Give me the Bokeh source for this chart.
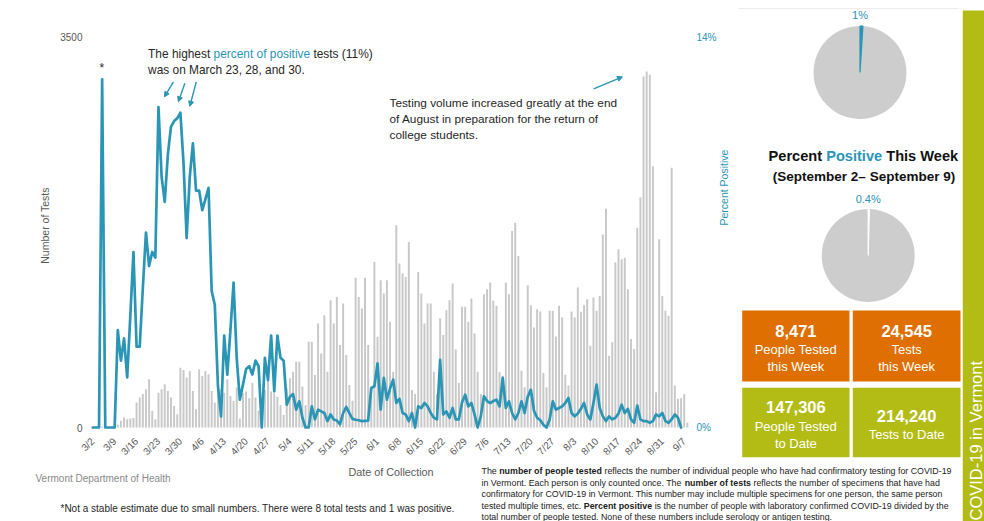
import math
import numpy as np
import pandas as pd
from bokeh.plotting import figure
from bokeh.layouts import row, column
from bokeh.models import Range1d, LinearAxis, FixedTicker, PrintfTickFormatter, Arrow, NormalHead
from bokeh.core.properties import value
from bokeh.embed import file_html
from bokeh.resources import INLINE

# ---------------- data ----------------
START = "2020-03-02"
tests = [
    0, 0, 0, 8, 0, 0, 0,
    0, 27, 60, 90, 75, 80, 85,
    224, 270, 300, 343, 433, 150, 75,
    313, 343, 388, 328, 270, 194, 119,
    537, 516, 448, 508, 328, 164, 522,
    462, 508, 477, 328, 224, 433, 343,
    313, 433, 283, 239, 358, 80, 310,
    322, 263, 400, 270, 150, 100, 337,
    441, 322, 307, 277, 203, 113, 352,
    441, 501, 591, 591, 367, 200, 770,
    770, 471, 934, 665, 1008, 500, 1143,
    934, 1172, 740, 1113, 650, 382, 239,
    1343, 1172, 1068, 1343, 740, 350, 1486,
    814, 1322, 1202, 1322, 949, 500, 1814,
    1471, 1381, 1351, 1665, 337, 300, 1396,
    1202, 934, 1113, 1113, 500, 300, 979,
    829, 1053, 1143, 1292, 700, 400, 1083,
    1083, 949, 1158, 844, 500, 300, 1196,
    1241, 1301, 1137, 1092, 495, 465, 1301,
    1196, 1763, 1838, 1539, 510, 361, 1277,
    1098, 898, 1062, 1041, 489, 361, 1047,
    1047, 817, 1092, 987, 474, 376, 1041,
    987, 1256, 1038, 1098, 1152, 734, 1166,
    1047, 1181, 1733, 1963, 644, 764, 1480,
    1599, 1510, 1524, 1241, 794, 704, 1793,
    2065, 3150, 3195, 3166, 2345, 316, 1689,
    1181, 1047, 1002, 2330, 376, 257, 263,
    301, 42,
]
NaN = float("nan")
pct_positive = [
    0, 0, 0, 12.5, 0, 0, 0,
    0, 3.5, 2.4, 3.2, 1.8, 4.0, 6.3,
    2.9, 2.9, 5.0, 7.0, 5.8, 6.3, 6.1,
    11.5, 9.0, 8.1, 9.8, 10.8, 11.0, 11.1,
    11.3, 9.5, 6.8, 9.0, 10.2, 8.5, 8.5,
    7.8, 8.2, 8.6, 4.9, 4.4, 1.5, 0.4,
    3.3, 1.9, 3.5, 5.2, 2.5, 1.0, 1.54,
    2.1, 2.2, 1.9, 2.4, 2.2, 0, 2.5,
    1.7, 3.3, 1.3, 3.3, 2.5, 2.4, 0.82,
    1.1, 1.2, 0.64, 0.94, 0.35, 0, 0,
    0.76, 0.29, 0.64, 0.58, 0.52, 0.23, 0.47,
    0.29, 0.25, 0.11, 0.52, 0.74, 0.52, 0.31,
    0.28, 0.26, 0.23, 0.24, 0.25, 1.42, 1.48,
    2.3, 0.64, 1.78, 1.0, 1.4, 1.72, 0.88,
    1.03, 0.52, 0.47, 0.23, 0.52, 0, 0.76,
    0.70, 0.88, 0.76, 0.52, 0.35, 0.29, 2.43,
    0.47, 0.58, 0.35, 0.70, 0.29, 0.29, 0.9,
    1.18, 0.76, 0.88, 0.47, 0, 0.40, 1.12,
    0.95, 0.88, 0.95, 1.0, 0.76, 1.78, 0.70,
    0.94, 0.52, 0.29, 0.52, 0.94, 0.52, 1.1,
    1.36, 0.6, 0.35, 0.26, 0.1, 0, 0.29,
    0.94, 0.64, 0.7, 0.76, 0.88, 1.06, 0.52,
    0.4, 0.5, 0.67, 0.88, 0.47, 0.29, 0.88,
    1.54, 0.70, 0.40, 0.23, 0.40, 0.29, 0.35,
    0.5, 0.82, 0.52, 0.67, 0.29, 0.17, 0.79,
    0.29, 0.23, 0.23, 0.17, 0.23, 0.47, 0.40,
    0.52, 0.23, 0.17, 0.3, 0.47, 0.35, 0,
    NaN, NaN,
]
tick_labels = ["3/2", "3/9", "3/16", "3/23", "3/30", "4/6", "4/13", "4/20", "4/27",
               "5/4", "5/11", "5/18", "5/25", "6/1", "6/8", "6/15", "6/22", "6/29",
               "7/6", "7/13", "7/20", "7/27", "8/3", "8/10", "8/17", "8/24", "8/31", "9/7"]
y_ticks = [0, 3500]
pct_ticks = [0, 14]
pie_labels = ["1%", "0.4%"]
pie_values = [1.0, 0.4]
box_numbers = ["8,471", "24,545", "147,306", "214,240"]
box_captions = [["People Tested", "this Week"], ["Tests", "this Week"],
                ["People Tested", "to Date"], ["Tests to Date"]]

n = min(len(tests), len(pct_positive))
tests = tests[:n]
pct_positive = pct_positive[:n]

# ---------------- styles ----------------
BLUE = "#2a95b5"
GRAY_BAR = "#c8c8c8"
PIE_GRAY = "#cdcdcd"
ORANGE = "#df6f00"
GREEN = "#b3bc14"
TXT = "#262626"
AXT = "#595959"
FONT = "Liberation Sans"

REG = {}
for chars, w in [("ijl", 222), (" ,.:;!/Itf", 278), ("r()-", 333), ("*", 389), ("'", 191),
                 ("cksvxyzJ", 500), ("abdeghnopqu0123456789?L\u2013", 556), ("+=<>", 584),
                 ("FTZ", 611), ("ABEKPSVXY", 667), ("CDHNRUw", 722), ("GOQ", 778),
                 ("mM", 833), ("%", 889), ("W", 944)]:
    for c in chars:
        REG[c] = w
BOLD = {}
for chars, w in [(" ,.;!Iijl", 278), ("ft()-:", 333), ("r*", 389), ("z", 500),
                 ("acesvxyJk0123456789\u2013", 556), ("bdghnopquLFTZ", 611), ("EPSVXY", 667),
                 ("ABCDHKNRU", 722), ("GOQw", 778), ("M", 833), ("m%", 889), ("W", 944)]:
    for c in chars:
        BOLD[c] = w


def text_w(s, size, bold=False):
    t = BOLD if bold else REG
    return sum(t.get(c, 556) for c in s) * size / 1000.0


def lead_w(s, size, bold=False):
    k = len(s) - len(s.lstrip(" "))
    return text_w(" " * k, size, bold)


# ---------------- main chart (page pixels: x 0..738, y 0..464) ----------------
X0_PX, PX_DAY = 92.3, 3.15          # pixel of first day, pixels per day
BASE_PX, TOP_PX = 428.0, 37.0       # pixel rows of 0 and of the top tick
FR_L, FR_R, FR_T, FR_B = 86, 697, 20, 431
P_W, P_H = 738, 464
UNIT = y_ticks[-1] / (BASE_PX - TOP_PX)
PUNIT = pct_ticks[-1] / (BASE_PX - TOP_PX)

start_ts = pd.Timestamp(START)
dates = pd.date_range(START, periods=n, freq="D")
days = np.array([(d - start_ts).days for d in dates])
tick_days = [(pd.Timestamp("2020/" + lab) - start_ts).days for lab in tick_labels]

p = figure(width=P_W, height=P_H,
           x_range=Range1d((FR_L - X0_PX) / PX_DAY, (FR_R - X0_PX) / PX_DAY),
           y_range=Range1d(-(FR_B - BASE_PX) * UNIT, y_ticks[-1] + (TOP_PX - FR_T) * UNIT),
           output_backend="svg", toolbar_location=None,
           min_border_left=FR_L, min_border_right=P_W - FR_R,
           min_border_top=FR_T, min_border_bottom=P_H - FR_B)
p.outline_line_color = None
p.grid.visible = False
p.extra_y_ranges = {"pct": Range1d(-(FR_B - BASE_PX) * PUNIT, pct_ticks[-1] + (TOP_PX - FR_T) * PUNIT)}

p.vbar(x=days, top=tests, width=0.62, fill_color=GRAY_BAR, line_color=None)
p.line(x=days, y=pct_positive, y_range_name="pct", line_color=BLUE, line_width=2.7,
       line_join="round", line_cap="round")


def style_axis(ax, color):
    ax.axis_line_color = None
    ax.major_tick_line_color = None
    ax.minor_tick_line_color = None
    ax.major_tick_out = 0
    ax.major_tick_in = 0
    ax.minor_tick_out = 0
    ax.minor_tick_in = 0
    ax.major_label_text_font = FONT
    ax.major_label_text_font_size = "10px"
    ax.major_label_text_color = color
    ax.axis_label_text_font = FONT
    ax.axis_label_text_font_style = "normal"
    ax.axis_label_text_font_size = "10.5px"
    ax.axis_label_text_color = color


xa = p.xaxis[0]
style_axis(xa, AXT)
xa.ticker = FixedTicker(ticks=tick_days)
xa.major_label_overrides = {d: lab for d, lab in zip(tick_days, tick_labels)}
xa.major_label_orientation = math.pi / 4
xa.major_label_standoff = 9

ya = p.yaxis[0]
style_axis(ya, AXT)
ya.ticker = FixedTicker(ticks=y_ticks)
ya.major_label_standoff = 4
ya.axis_label = "Number of Tests"
ya.axis_label_standoff = 6

ra = LinearAxis(y_range_name="pct", ticker=FixedTicker(ticks=pct_ticks),
                formatter=PrintfTickFormatter(format="%d%%"))
style_axis(ra, BLUE)
ra.major_label_standoff = 3
ra.axis_label = "Percent Positive"
ra.axis_label_standoff = 4
try:
    ra.axis_label_orientation = math.pi / 2
except Exception:
    pass
p.add_layout(ra, "right")


def dx(px):
    return (px - X0_PX) / PX_DAY


def dy(py):
    return (BASE_PX - py) * UNIT


ANN_FS = 11.9
segs = [("The highest ", TXT), ("percent of positive", BLUE), (" tests (11%)", TXT)]
offs, acc = [], 0.0
for s, c in segs:
    offs.append(acc + lead_w(s, ANN_FS))
    acc += text_w(s, ANN_FS)
p.text(x=[dx(148)] * 3, y=[dy(53.5)] * 3, text=[s.strip() for s, c in segs], x_offset=offs,
       text_color=[c for s, c in segs], text_font=value(FONT), text_font_size=f"{ANN_FS}px",
       text_baseline="middle", text_align="left")
p.text(x=[dx(148)], y=[dy(69.5)], text=["was on March 23, 28, and 30."], text_color=TXT,
       text_font=value(FONT), text_font_size=f"{ANN_FS}px", text_baseline="middle", text_align="left")
ann2 = ["Testing volume increased greatly at the end", "of August in preparation for the return of",
        "college students."]
p.text(x=[dx(391)] * 3, y=[dy(102.3), dy(118.3), dy(134.3)], text=ann2, text_color=TXT,
       text_font=value(FONT), text_font_size="11.8px", text_baseline="middle", text_align="left")
p.text(x=[dx(101.5)], y=[dy(68)], text=["*"], text_color=TXT, text_font=value(FONT),
       text_font_size="12px", text_baseline="middle", text_align="center")

for (x1, y1, x2, y2) in [(173.5, 81.5, 164.5, 96.5), (185.0, 83.0, 178.5, 101.5),
                         (196.5, 81.5, 190.0, 106.0), (596.5, 88.5, 625.5, 76.5)]:
    p.add_layout(Arrow(end=NormalHead(size=5, fill_color=BLUE, line_color=BLUE, line_width=1),
                       x_start=dx(x1), y_start=dy(y1), x_end=dx(x2), y_end=dy(y2),
                       line_color=BLUE, line_width=1.4))


# ---------------- helpers for pixel-space panels ----------------
def pix_fig(x0, x1, y_top, y_bot):
    f = figure(width=x1 - x0, height=y_bot - y_top, x_range=Range1d(x0, x1),
               y_range=Range1d(y_bot, y_top), output_backend="svg", toolbar_location=None,
               x_axis_location=None, y_axis_location=None, min_border=0)
    f.outline_line_color = None
    f.grid.visible = False
    return f


def put(f, x, y, text, size, color, bold=False, align="left", angle=0.0):
    f.text(x=[x], y=[y], text=[text], text_color=color, text_font=value(FONT),
           text_font_size=f"{size}px", text_font_style="bold" if bold else "normal",
           text_align=align, text_baseline="middle", angle=angle)


def put_segments(f, x, y, segments, size):
    for s, bold, color in segments:
        put(f, x + lead_w(s, size, bold), y, s.strip(), size, color, bold=bold)
        x += text_w(s, size, bold)


# ---------------- right panel (x 738..962, y 0..464) ----------------
rp = pix_fig(738, 962, 0, P_H)
rp.line(x=[738, 958], y=[8, 8], line_color="#ececec", line_width=1)
pie_centers = [(859.5, 72.0), (867.7, 255.0)]
label_y = [14.0, 198.0]
slice_colors = [BLUE, "white"]
for (cx, cy), v, lab, ly, sc in zip(pie_centers, pie_values, pie_labels, label_y, slice_colors):
    rp.wedge(x=[cx], y=[cy], radius=46.5, radius_units="screen", start_angle=math.pi / 2,
             end_angle=math.pi / 2 - 2 * math.pi * v / 100.0, direction="anticlock",
             fill_color=PIE_GRAY, line_color=None)
    rp.wedge(x=[cx], y=[cy], radius=46.5, radius_units="screen",
             start_angle=math.pi / 2 - 2 * math.pi * v / 100.0, end_angle=math.pi / 2,
             direction="anticlock", fill_color=sc, line_color=sc, line_width=1.2)
    put(rp, cx, ly, lab, 11, BLUE, align="center")

T_FS = 14.6
tsegs = [("Percent ", True, "#111111"), ("Positive", True, BLUE), (" This Week", True, "#111111")]
tw = sum(text_w(s, T_FS, True) for s, b, c in tsegs)
put_segments(rp, 863.0 - tw / 2, 155.5, tsegs, T_FS)
put(rp, 863.5, 175.5, "(September 2\u2013 September 9)", 13.5, "#111111", bold=True, align="center")

box_rects = [(741.7, 849.0, 310.0, 381.0), (852.3, 960.0, 310.0, 381.0),
             (741.7, 849.0, 387.3, 456.7), (852.3, 960.0, 387.3, 456.7)]
box_colors = [ORANGE, ORANGE, GREEN, GREEN]
rp.quad(left=[b[0] for b in box_rects], right=[b[1] for b in box_rects],
        top=[b[2] for b in box_rects], bottom=[b[3] for b in box_rects],
        fill_color=box_colors, line_color=None)
num_y = [330.5, 330.5, 406.7, 415.0]
cap_y = [[349.3, 366.0], [349.3, 366.0], [426.0, 442.7], [434.0]]
for b, num, caps, ny, cys in zip(box_rects, box_numbers, box_captions, num_y, cap_y):
    cx = (b[0] + b[1]) / 2
    put(rp, cx, ny, num, 16.5, "white", bold=True, align="center")
    for c, cy in zip(caps, cys):
        put(rp, cx, cy, c, 13, "white", align="center")

# ---------------- bottom strip (x 0..962, y 464..521) ----------------
bt = pix_fig(0, 962, P_H, 521)
put(bt, 390.5, 471.5, "Date of Collection", 10.8, AXT, align="center")
put(bt, 35, 478.0, "Vermont Department of Health", 10, "#8a8a8a")
put(bt, 60, 507.5, "*Not a stable estimate due to small numbers. There were 8 total tests and 1 was positive.",
    10, TXT)
INK = "#1a1a1a"
para = [
    [("The ", False, INK), ("number of people tested", True, INK),
     (" reflects the number of individual people who have had confirmatory testing for COVID-19", False, INK)],
    [("in Vermont. Each person is only counted once. The ", False, INK), ("number of tests", True, INK),
     (" reflects the number of specimens that have had", False, INK)],
    [("confirmatory for COVID-19 in Vermont. This number may include multiple specimens for one person, the same person", False, INK)],
    [("tested multiple times, etc. ", False, INK), ("Percent positive", True, INK),
     (" is the number of people with laboratory confirmed COVID-19 divided by the", False, INK)],
    [("total number of people tested. None of these numbers include serology or antigen testing.", False, INK)],
]
P_FS = 8.85
for i, line in enumerate(para):
    put_segments(bt, 481.0, 470.8 + i * 11.4, line, P_FS)

# ---------------- green side bar (x 962..984, y 0..521) ----------------
gb = pix_fig(962, 984, 0, 521)
gb.quad(left=[962], right=[984], top=[10], bottom=[521], fill_color=GREEN, line_color=None)
put(gb, 975.5, 520, "COVID-19 in Vermont", 16.5, "white", angle=math.pi / 2)

layout = row(column(row(p, column(rp)), bt), gb)
open("out.html", "w").write(file_html(layout, INLINE))
